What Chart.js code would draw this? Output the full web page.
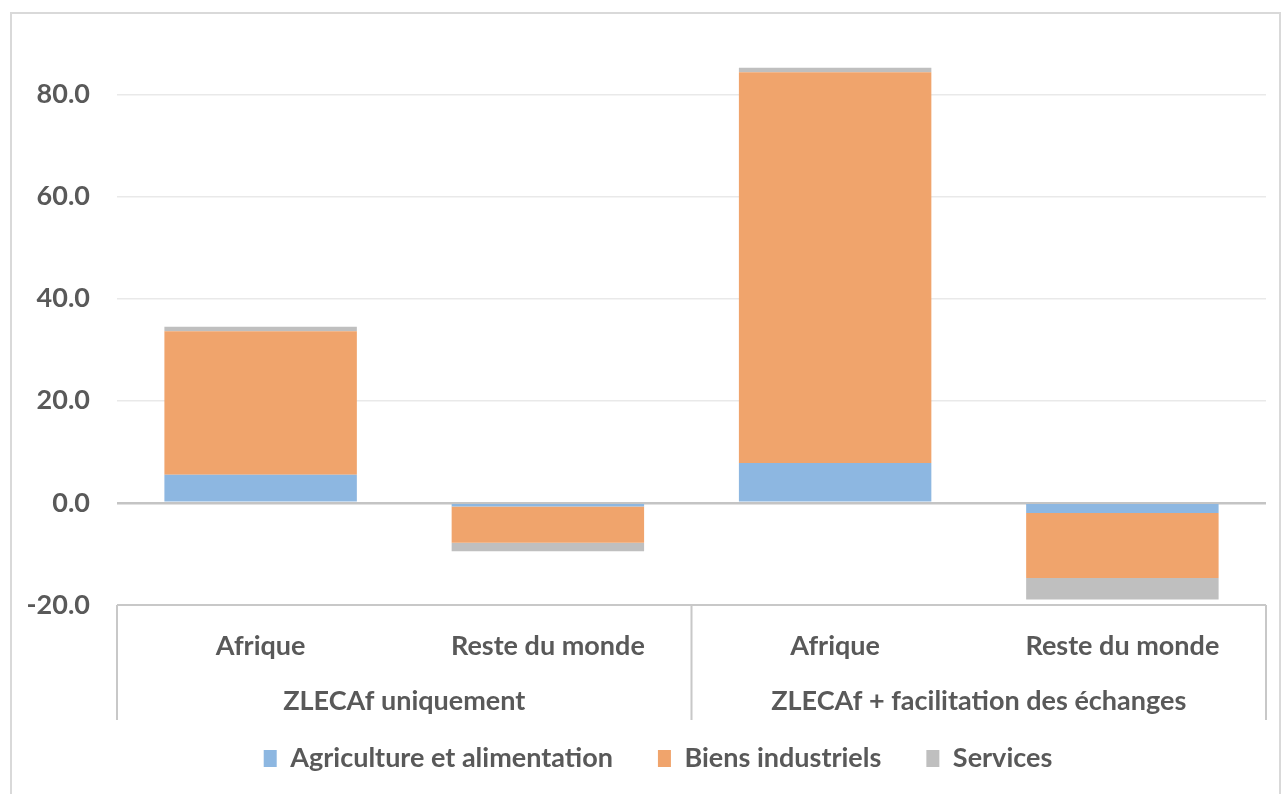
<!DOCTYPE html>
<html>
<head>
<meta charset="utf-8">
<script src="https://cdn.jsdelivr.net/npm/chart.js@4"></script>
<style>
  html, body { margin: 0; padding: 0; background: #fff; }
  #wrap { position: relative; width: 1285px; height: 794px; overflow: hidden; }
  #frame { position: absolute; left: 10px; top: 12px; width: 1271px; height: 800px; border: 2px solid #D9D9D9; box-sizing: border-box; }
  canvas { position: absolute; left: 0; top: 0; }
</style>
</head>
<body>
<div id="wrap">
  <div id="frame"></div>
  <canvas id="chart" width="1285" height="794"></canvas>
</div>
<script>
// catégories et groupes
const categories = ['Afrique', 'Reste du monde', 'Afrique', 'Reste du monde'];
const groups = ['ZLECAf uniquement', 'ZLECAf + facilitation des échanges'];
const yTicks = [-20, 0, 20, 40, 60, 80];

// valeurs par secteur
const agriculture = [5.5, -0.7, 7.8, -2.0];
const industriels = [28.1, -7.1, 76.5, -12.7];
const services = [0.9, -1.7, 0.9, -4.2];

const textColor = '#595959';
const font = { family: 'Lato', weight: 'bold', size: 27 };

// deuxième niveau de l'axe : groupes et cadre
const groupAxis = {
  id: 'groupAxis',
  afterLayout(chart) {
    // laisse la place aux libellés de l'axe y (pas de rognage)
    chart.scales.y.left = 0;
  },
  afterDraw(chart) {
    const { ctx, chartArea } = chart;
    const x = chart.scales.x;
    const mid = (x.getPixelForValue(1) + x.getPixelForValue(2)) / 2;
    const top = chartArea.bottom;
    const bottom = top + 115;
    ctx.save();
    ctx.strokeStyle = '#C8C8C8';
    ctx.lineWidth = 2;
    ctx.beginPath();
    ctx.moveTo(chartArea.left, top);
    ctx.lineTo(chartArea.right, top);
    [chartArea.left, mid, chartArea.right].forEach(px => {
      ctx.moveTo(px, top);
      ctx.lineTo(px, bottom);
    });
    ctx.stroke();

    ctx.fillStyle = textColor;
    ctx.font = 'bold 27px Lato';
    ctx.textAlign = 'center';
    ctx.textBaseline = 'middle';
    groups.forEach((g, i) => {
      const cx = (x.getPixelForValue(i * 2) + x.getPixelForValue(i * 2 + 1)) / 2;
      ctx.fillText(g, cx, top + 96);
    });
    ctx.restore();
  }
};

new Chart(document.getElementById('chart'), {
  type: 'bar',
  data: {
    labels: categories,
    datasets: [
      { label: 'Agriculture et alimentation', data: agriculture, backgroundColor: '#8DB7E1' },
      { label: 'Biens industriels', data: industriels, backgroundColor: '#F0A46C' },
      { label: 'Services', data: services, backgroundColor: '#BFBFBF' }
    ]
  },
  options: {
    responsive: false,
    animation: false,
    barPercentage: 0.67,
    categoryPercentage: 1,
    layout: { padding: { top: 0, right: 19, left: 50, bottom: 12 } },
    scales: {
      x: {
        stacked: true,
        grid: { display: false, drawTicks: false },
        border: { display: false },
        ticks: { color: textColor, font: font, padding: 25, maxRotation: 0 },
        afterFit(s) { s.height = 95; }
      },
      y: {
        stacked: true,
        min: -20,
        max: 90,
        afterBuildTicks(s) { s.ticks = yTicks.map(v => ({ value: v })); },
        afterFit(s) { s.width = 67; },
        border: { display: false },
        grid: {
          drawTicks: false,
          color: c => c.tick.value === 0 ? '#C4C4C4' : '#E9E9E9',
          lineWidth: c => c.tick.value === 0 ? 2.5 : 1.5
        },
        ticks: {
          color: textColor,
          font: font,
          padding: 27,
          callback: v => v.toFixed(1)
        }
      }
    },
    plugins: {
      legend: {
        position: 'bottom',
        labels: {
          color: textColor,
          font: font,
          boxWidth: 13,
          boxHeight: 17,
          padding: 45
        }
      },
      tooltip: { enabled: false }
    }
  },
  plugins: [groupAxis]
});
</script>
</body>
</html>
